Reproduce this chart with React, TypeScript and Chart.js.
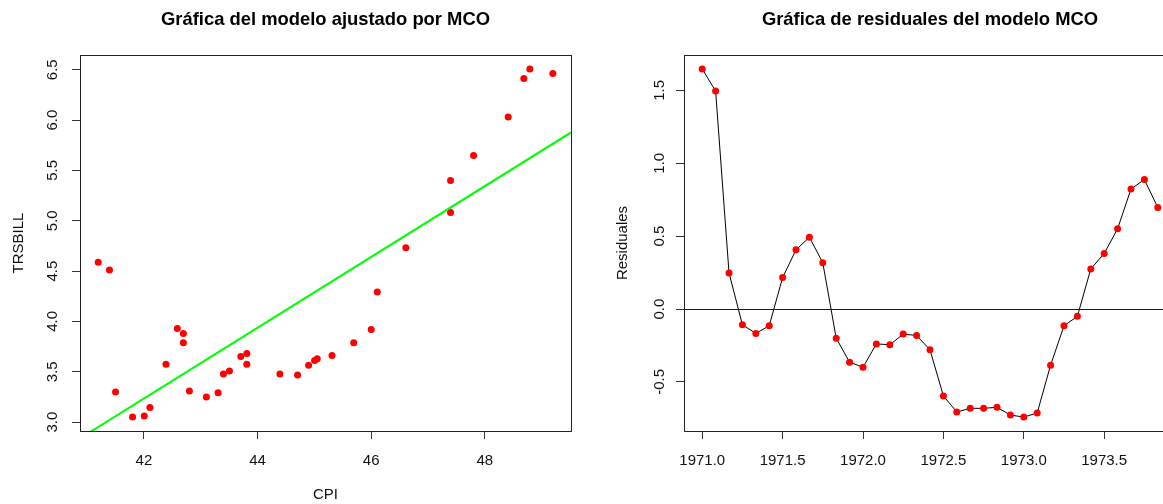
import React, { useEffect, useRef } from "react";
import { Chart, registerables } from "chart.js";

Chart.register(...registerables);

// ---------- data ----------
const CPI = [
  41.195, 41.394, 41.5, 41.8, 42.006, 42.106, 42.388, 42.588, 42.694, 42.694,
  42.8, 43.099, 43.305, 43.399, 43.505, 43.705, 43.811, 43.811, 44.393, 44.704,
  44.898, 45.004, 45.05, 45.31, 45.692, 46.0, 46.106, 46.61, 47.396, 47.396,
  47.801, 48.411, 48.686, 48.792, 49.196,
];
const TRSBILL = [
  4.588, 4.512, 3.299, 3.05, 3.06, 3.146, 3.575, 3.93, 3.88, 3.787,
  3.309, 3.249, 3.292, 3.478, 3.508, 3.651, 3.681, 3.575, 3.478, 3.468,
  3.565, 3.611, 3.63, 3.661, 3.787, 3.92, 4.292, 4.731, 5.083, 5.399,
  5.648, 6.03, 6.412, 6.508, 6.462,
];
const RESIDUALES = [
  1.647, 1.495, 0.248, -0.108, -0.167, -0.115, 0.216, 0.406, 0.493, 0.317,
  -0.2, -0.365, -0.399, -0.239, -0.245, -0.172, -0.181, -0.28, -0.596, -0.706,
  -0.681, -0.681, -0.674, -0.727, -0.741, -0.713, -0.385, -0.115, -0.05, 0.275,
  0.381, 0.55, 0.823, 0.888, 0.697,
];
const START_YEAR = 1971;
const MONTHS_PER_YEAR = 12;

const FIT_INTERCEPT = -11.533;
const FIT_SLOPE = 0.3516;
const ZERO_LINE = 0;

const CPI_TICKS = [42, 44, 46, 48];
const TRSBILL_TICKS = [3.0, 3.5, 4.0, 4.5, 5.0, 5.5, 6.0, 6.5];
const TIME_TICKS = [1971.0, 1971.5, 1972.0, 1972.5, 1973.0, 1973.5];
const RESID_TICKS = [-0.5, 0.0, 0.5, 1.0, 1.5];

const TITLE_LEFT = "Gráfica del modelo ajustado por MCO";
const TITLE_RIGHT = "Gráfica de residuales del modelo MCO";

// ---------- styling ----------
const FAMILY = "'Liberation Sans', Arial, Helvetica, sans-serif";
const AXIS_FONT = { family: FAMILY, size: 15, lineHeight: 1.2 };
const TEXT = "#111";
const LINE = "#333";
const H = 504;

function rRange(values: number[]): [number, number] {
  const lo = Math.min(...values);
  const hi = Math.max(...values);
  const d = (hi - lo) * 0.04;
  return [lo - d, hi + d];
}

const boxPlugin = {
  id: "rbox",
  afterDraw(chart: any) {
    const { ctx, chartArea: a } = chart;
    ctx.save();
    ctx.strokeStyle = "#222";
    ctx.lineWidth = 1;
    ctx.strokeRect(
      Math.round(a.left) + 0.5,
      Math.round(a.top) + 0.5,
      Math.round(a.right - a.left),
      Math.round(a.bottom - a.top)
    );
    ctx.restore();
  },
};

// horizontal reference line (abline h = ZERO_LINE), placed through the y scale
const hLinePlugin = {
  id: "hline",
  afterDatasetsDraw(chart: any) {
    const { ctx, chartArea: a, scales } = chart;
    const y = Math.round(scales.y.getPixelForValue(ZERO_LINE)) + 0.5;
    ctx.save();
    ctx.beginPath();
    ctx.rect(a.left, a.top, a.right - a.left, a.bottom - a.top);
    ctx.clip();
    ctx.strokeStyle = "#0000FF";
    ctx.lineWidth = 1;
    ctx.beginPath();
    ctx.moveTo(a.left, y);
    ctx.lineTo(a.right, y);
    ctx.stroke();
    ctx.restore();
  },
};

function xAxis(min: number, max: number, ticks: number[], fmt: (v: number) => string, title?: string) {
  return {
    type: "linear",
    position: "bottom",
    min,
    max,
    afterBuildTicks: (s: any) => {
      s.ticks = ticks.map((v) => ({ value: v }));
    },
    afterFit: (s: any) => {
      s.height = 73;
    },
    grid: { display: true, drawOnChartArea: false, drawTicks: true, tickLength: 8, color: LINE, lineWidth: 1 },
    border: { display: false },
    ticks: {
      font: AXIS_FONT,
      color: TEXT,
      padding: 13,
      minRotation: 0,
      maxRotation: 0,
      autoSkip: false,
      callback: (v: any) => fmt(Number(v)),
    },
    title: {
      display: !!title,
      text: title || "",
      font: AXIS_FONT,
      color: TEXT,
      padding: { top: 0, bottom: 0 },
    },
  };
}

function yAxis(min: number, max: number, ticks: number[], fmt: (v: number) => string, title: string, labelPad: number, titlePad: number) {
  return {
    type: "linear",
    position: "left",
    min,
    max,
    afterBuildTicks: (s: any) => {
      s.ticks = ticks.map((v) => ({ value: v }));
    },
    afterFit: (s: any) => {
      s.width = 80;
    },
    grid: { display: true, drawOnChartArea: false, drawTicks: true, tickLength: 8, color: LINE, lineWidth: 1 },
    border: { display: false },
    ticks: {
      font: AXIS_FONT,
      color: TEXT,
      padding: labelPad,
      minRotation: 90,
      maxRotation: 90,
      crossAlign: "center",
      autoSkip: false,
      callback: (v: any) => fmt(Number(v)),
    },
    title: {
      display: true,
      text: title,
      font: AXIS_FONT,
      color: TEXT,
      padding: { top: titlePad, bottom: 0 },
    },
  };
}

function titleOpts(text: string) {
  return {
    display: true,
    text,
    fullSize: false,
    color: "#000",
    font: { family: FAMILY, size: 18.4, weight: "bold", lineHeight: 1.2 },
    padding: { top: 8.5, bottom: 24.42 },
  };
}

function leftConfig(): any {
  const [xmin, xmax] = rRange(CPI);
  const [ymin, ymax] = rRange(TRSBILL);
  return {
    type: "scatter",
    data: {
      datasets: [
        {
          data: [
            { x: xmin, y: FIT_INTERCEPT + FIT_SLOPE * xmin },
            { x: xmax, y: FIT_INTERCEPT + FIT_SLOPE * xmax },
          ],
          showLine: true,
          borderColor: "#00FF00",
          borderWidth: 2,
          pointRadius: 0,
          fill: false,
        },
        {
          data: CPI.map((c, i) => ({ x: c, y: TRSBILL[i] })),
          showLine: false,
          pointRadius: 3.5,
          pointBackgroundColor: "#FF0000",
          pointBorderColor: "#FF0000",
          pointBorderWidth: 0,
        },
      ],
    },
    options: {
      responsive: false,
      animation: false,
      events: [],
      layout: { padding: { left: 0, right: 33, top: 0, bottom: 0 } },
      plugins: {
        legend: { display: false },
        tooltip: { enabled: false },
        title: titleOpts(TITLE_LEFT),
      },
      scales: {
        x: xAxis(xmin, xmax, CPI_TICKS, (v) => String(v), "CPI"),
        y: yAxis(ymin, ymax, TRSBILL_TICKS, (v) => v.toFixed(1), "TRSBILL", 8.3, 10.2),
      },
    },
    plugins: [boxPlugin],
  };
}

function rightConfig(): any {
  const times = RESIDUALES.map((_, i) => START_YEAR + i / MONTHS_PER_YEAR);
  const [xmin, xmax] = rRange(times);
  const [ymin, ymax] = rRange(RESIDUALES);
  return {
    type: "scatter",
    data: {
      datasets: [
        {
          data: times.map((t, i) => ({ x: t, y: RESIDUALES[i] })),
          showLine: true,
          borderColor: "#000",
          borderWidth: 1,
          pointRadius: 3.5,
          pointBackgroundColor: "#FF0000",
          pointBorderColor: "#FF0000",
          pointBorderWidth: 0,
          fill: false,
        },
      ],
    },
    options: {
      responsive: false,
      animation: false,
      events: [],
      layout: { padding: { left: 0, right: 32, top: 0, bottom: 0 } },
      plugins: {
        legend: { display: false },
        tooltip: { enabled: false },
        title: titleOpts(TITLE_RIGHT),
      },
      scales: {
        x: xAxis(xmin, xmax, TIME_TICKS, (v) => v.toFixed(1)),
        y: yAxis(ymin, ymax, RESID_TICKS, (v) => v.toFixed(1), "Residuales", 3.3, 10),
      },
    },
    plugins: [boxPlugin, hLinePlugin],
  };
}

function ChartCanvas({ make, left, width }: { make: () => any; left: number; width: number }) {
  const ref = useRef<HTMLCanvasElement | null>(null);
  useEffect(() => {
    if (!ref.current) return;
    const chart = new Chart(ref.current, make());
    return () => chart.destroy();
  }, []);
  return (
    <canvas
      ref={ref}
      width={width}
      height={H}
      style={{ position: "absolute", left, top: 0, width, height: H, display: "block" }}
    />
  );
}

export default function App() {
  return (
    <div
      style={{
        position: "fixed",
        left: 0,
        top: 0,
        width: 1163,
        height: H,
        overflow: "hidden",
        background: "#fff",
      }}
    >
      <ChartCanvas make={leftConfig} left={0} width={604} />
      <ChartCanvas make={rightConfig} left={604} width={604} />
    </div>
  );
}
